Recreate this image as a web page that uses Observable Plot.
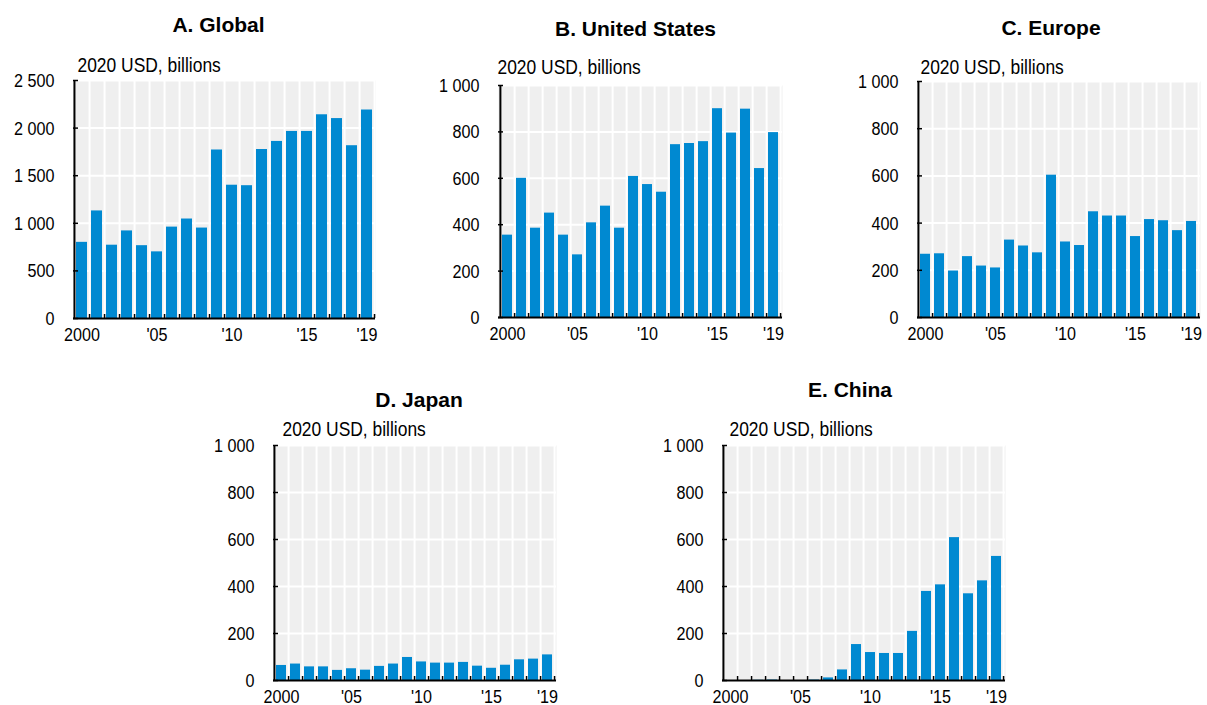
<!DOCTYPE html>
<html>
<head>
<meta charset="utf-8">
<script src="https://cdn.jsdelivr.net/npm/d3@7"></script>
<script src="https://cdn.jsdelivr.net/npm/@observablehq/plot@0.6"></script>
<style>
  html, body { margin: 0; padding: 0; background: #fff; overflow: hidden; }
  #chart { position: relative; width: 1207px; height: 705px; }
  #chart svg { position: absolute; overflow: visible; }
</style>
</head>
<body>
<div id="chart"></div>
<script>
// Years on the horizontal axis
const years = [2000, 2001, 2002, 2003, 2004, 2005, 2006, 2007, 2008, 2009,
               2010, 2011, 2012, 2013, 2014, 2015, 2016, 2017, 2018, 2019];
const xTickYears = [2000, 2005, 2010, 2015, 2019];
const xTickLabels = ["2000", "'05", "'10", "'15", "'19"];

// 2020 USD, billions
const globalValues = [800, 1130, 770, 920, 765, 700, 960, 1045, 950, 1770,
                      1400, 1395, 1775, 1860, 1965, 1965, 2140, 2100, 1815, 2190];
const usValues     = [355, 600, 385, 450, 355, 270, 408, 480, 385, 608,
                      573, 540, 745, 750, 758, 900, 795, 898, 642, 797];
const europeValues = [268, 270, 197, 258, 218, 210, 328, 303, 274, 603,
                      320, 305, 448, 430, 430, 343, 415, 410, 368, 407];
const japanValues  = [64, 70, 58, 58, 43, 50, 44, 60, 70, 98,
                      79, 74, 74, 77, 61, 52, 65, 88, 91, 109];
const chinaValues  = [0, 0, 1, 2, 0, 0, 2, 11, 45, 153,
                      119, 115, 115, 209, 379, 407, 608, 369, 424, 528];

const globalTicks = [0, 500, 1000, 1500, 2000, 2500];
const regionTicks = [0, 200, 400, 600, 800, 1000];

const titles = ["A. Global", "B. United States", "C. Europe", "D. Japan", "E. China"];
const unitLabel = "2020 USD, billions";

const BLUE = "#0089d1";
const regular = "'Liberation Sans', Arial, sans-serif";
const NARROW = 0.85; // horizontal squeeze for the condensed label face
const fmt = d3.formatLocale({decimal: ".", thousands: " ", grouping: [3], currency: ["", ""]}).format(",");

// Page placement of each panel's plotting area
const layouts = [
  {x0: 73,  x1: 375,  y0: 80,  y1: 318, titleDx: -6,  titleBase: -49, unitDx: 4,  unitBase: -9},
  {x0: 498, x1: 782,  y0: 85,  y1: 317, titleDx: -5,  titleBase: -50, unitDx: -1, unitBase: -12},
  {x0: 917, x1: 1200, y0: 81,  y1: 317, titleDx: -8,  titleBase: -47, unitDx: 3,  unitBase: -8},
  {x0: 273, x1: 556,  y0: 445, y1: 680, titleDx: 4,   titleBase: -39, unitDx: 9,  unitBase: -10},
  {x0: 722, x1: 1005, y0: 445, y1: 680, titleDx: -14, titleBase: -49, unitDx: 7,  unitBase: -10}
];
const series = [globalValues, usValues, europeValues, japanValues, chinaValues];
const tickSets = [globalTicks, regionTicks, regionTicks, regionTicks, regionTicks];

// squeeze a text horizontally about its own anchor point
function condense(t) {
  const tr = t.getAttribute("transform") || "";
  const x = parseFloat(t.getAttribute("x")) || 0;
  t.removeAttribute("x");
  t.setAttribute("transform", `${tr} translate(${x},0) scale(${NARROW},1)`.trim());
}

function panel(title, values, yTicks, L) {
  const mL = 73, mT = 80, mR = 8, mB = 40;
  const plotW = L.x1 - L.x0, plotH = L.y1 - L.y0;
  const step = plotW / years.length;
  const data = years.map((year, i) => ({year, value: values[i]}));
  const svg = Plot.plot({
    width: mL + plotW + mR,
    height: mT + plotH + mB,
    marginLeft: mL, marginTop: mT, marginRight: mR, marginBottom: mB,
    style: {fontFamily: regular, fontSize: "19px", color: "#000", background: "transparent", overflow: "visible"},
    x: {type: "band", domain: years, paddingInner: 0.27, paddingOuter: 0.135, label: null},
    y: {domain: [yTicks[0], yTicks[yTicks.length - 1]], label: null},
    marks: [
      Plot.frame({fill: "#efefef", stroke: null}),
      Plot.gridY(yTicks, {stroke: "#fff", strokeOpacity: 1, strokeWidth: 2}),
      Plot.ruleX(years, {x: d => d, dx: step / 2, stroke: "#fff", strokeWidth: 2}),
      Plot.barY(data, {x: "year", y: "value", fill: BLUE}),
      // small ticks at band boundaries along the baseline
      Plot.ruleX(years, {x: d => d, dx: step / 2, insetTop: plotH - 4, stroke: "#000", strokeWidth: 1.5}),
      // small inward ticks on the value axis
      Plot.ruleY(yTicks, {y: d => d, insetRight: plotW - 5, stroke: "#000", strokeWidth: 1.5}),
      // axis lines
      Plot.ruleX([years[0]], {x: d => d, dx: -step / 2, stroke: "#000", strokeWidth: 2}),
      Plot.ruleY([0], {stroke: "#000", strokeWidth: 2}),
      Plot.axisY(yTicks, {tickSize: 0, tickPadding: 19, tickFormat: fmt, fontSize: 19, dy: 0.5, label: null}),
      Plot.axisX(xTickYears, {tickSize: 0, tickPadding: 9, fontSize: 19, label: null,
        tickFormat: d => xTickLabels[xTickYears.indexOf(d)]}),
      Plot.text([unitLabel], {frameAnchor: "top-left", textAnchor: "start", lineAnchor: "middle",
        dx: L.unitDx, dy: L.unitBase - 0.32 * 20.5, fontSize: 20.5}),
      Plot.text([title], {frameAnchor: "top", textAnchor: "middle", lineAnchor: "middle",
        dx: L.titleDx, dy: L.titleBase - 0.32 * 21, fontSize: 21, fontWeight: "bold"})
    ]
  });
  svg.querySelectorAll('g[aria-label="y-axis tick label"] text, g[aria-label="x-axis tick label"] text')
    .forEach(condense);
  svg.querySelectorAll("text")
    .forEach(t => { if (t.textContent === unitLabel) condense(t); });
  svg.style.left = (L.x0 - mL) + "px";
  svg.style.top = (L.y0 - mT) + "px";
  return svg;
}

const chart = document.getElementById("chart");
titles.forEach((t, i) => chart.appendChild(panel(t, series[i], tickSets[i], layouts[i])));
</script>
</body>
</html>
